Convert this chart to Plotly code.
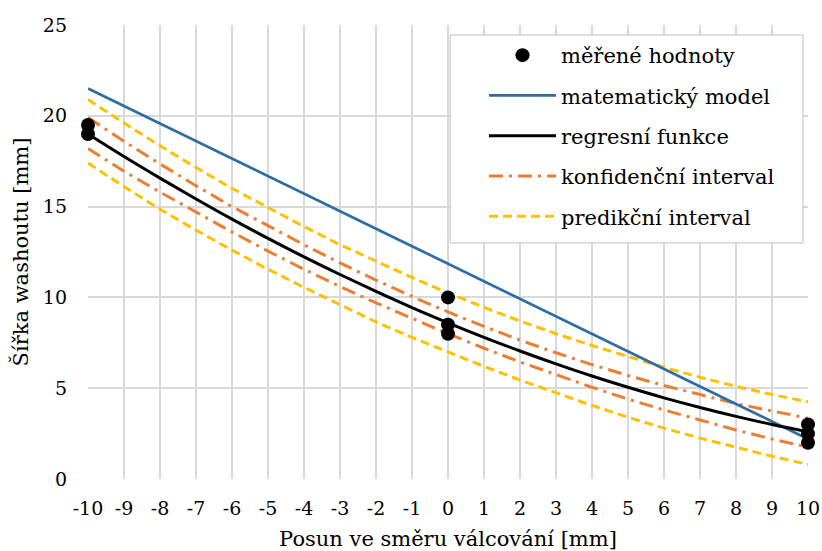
import plotly.graph_objects as go

# Posun ve směru válcování [mm]
x_pos = [-10, -9, -8, -7, -6, -5, -4, -3, -2, -1, 0, 1, 2, 3, 4, 5, 6, 7, 8, 9, 10]
x_ticks = ["-10", "-9", "-8", "-7", "-6", "-5", "-4", "-3", "-2", "-1", "0",
           "1", "2", "3", "4", "5", "6", "7", "8", "9", "10"]
y_ticks = [0, 5, 10, 15, 20, 25]

# measured points
meas_x = [-10, -10, 0, 0, 0, 10, 10, 10]
meas_y = [19.5, 19.0, 10.0, 8.5, 8.0, 3.0, 2.5, 2.0]

# mathematical model
model_y = [21.5, 20.53, 19.57, 18.6, 17.64, 16.67, 15.71, 14.75, 13.78, 12.82, 11.85,
           10.89, 9.92, 8.96, 7.99, 7.03, 6.06, 5.10, 4.13, 3.17, 2.2]

# regression function
reg_y = [19.0, 17.76, 16.57, 15.42, 14.31, 13.25, 12.23, 11.26, 10.33, 9.44, 8.6,
         7.80, 7.05, 6.34, 5.67, 5.05, 4.47, 3.94, 3.45, 3.00, 2.6]

# confidence interval
conf_hi = [19.9, 18.6, 17.35, 16.15, 15.0, 13.95, 12.9, 11.9, 10.95, 10.05, 9.2,
           8.4, 7.65, 6.95, 6.3, 5.7, 5.15, 4.65, 4.15, 3.75, 3.35]
conf_lo = [18.2, 16.95, 15.8, 14.7, 13.6, 12.55, 11.55, 10.6, 9.7, 8.85, 8.0,
           7.2, 6.45, 5.75, 5.05, 4.4, 3.8, 3.25, 2.7, 2.2, 1.75]

# prediction interval
pred_hi = [20.9, 19.6, 18.35, 17.15, 16.0, 14.95, 13.9, 12.9, 12.0, 11.1, 10.25,
           9.45, 8.7, 8.0, 7.35, 6.75, 6.15, 5.6, 5.1, 4.65, 4.25]
pred_lo = [17.4, 16.1, 14.85, 13.7, 12.6, 11.55, 10.55, 9.6, 8.65, 7.8, 7.0,
           6.2, 5.45, 4.75, 4.05, 3.4, 2.8, 2.25, 1.75, 1.25, 0.8]

FONT = "DejaVu Serif"
BLUE = "#2E6DA4"
ORANGE = "#ED7D31"
YELLOW = "#FFC000"
conf_dash = "14px,6px,3px,6px"
pred_dash = "9px,5px"

fig = go.Figure()

fig.add_trace(go.Scatter(x=x_pos, y=pred_hi, mode="lines", name="predikční interval",
                         line=dict(color=YELLOW, width=3, dash=pred_dash),
                         legendgroup="pred", legendrank=5))
fig.add_trace(go.Scatter(x=x_pos, y=pred_lo, mode="lines", showlegend=False,
                         line=dict(color=YELLOW, width=3, dash=pred_dash),
                         legendgroup="pred"))
fig.add_trace(go.Scatter(x=x_pos, y=conf_hi, mode="lines", name="konfidenční interval",
                         line=dict(color=ORANGE, width=3, dash=conf_dash),
                         legendgroup="conf", legendrank=4))
fig.add_trace(go.Scatter(x=x_pos, y=conf_lo, mode="lines", showlegend=False,
                         line=dict(color=ORANGE, width=3, dash=conf_dash),
                         legendgroup="conf"))
fig.add_trace(go.Scatter(x=x_pos, y=model_y, mode="lines", name="matematický model",
                         line=dict(color=BLUE, width=2.7), legendgroup="model",
                         legendrank=2))
fig.add_trace(go.Scatter(x=x_pos, y=reg_y, mode="lines", name="regresní funkce",
                         line=dict(color="black", width=3, shape="spline"),
                         legendgroup="reg", legendrank=3))
fig.add_trace(go.Scatter(x=meas_x, y=meas_y, mode="markers", name="měřené hodnoty",
                         marker=dict(color="black", size=14), legendgroup="meas",
                         legendrank=1, cliponaxis=False))

# legend frame (white panel with a thin grey border behind the legend entries)
fig.add_shape(type="rect", xref="paper", yref="paper",
              x0=0.503, x1=0.993, y0=0.52, y1=0.978,
              fillcolor="white", line=dict(color="#BFBFBF", width=1), layer="above")

fig.update_layout(
    width=822, height=551,
    margin=dict(l=88, r=14, t=25, b=72),
    paper_bgcolor="white", plot_bgcolor="white",
    font=dict(family=FONT, size=19, color="black"),
    legend=dict(
        x=0.55, y=0.978, xanchor="left", yanchor="top",
        bgcolor="rgba(0,0,0,0)", borderwidth=0,
        font=dict(family=FONT, size=21, color="black"),
        tracegroupgap=10, itemwidth=67,
    ),
    xaxis=dict(
        range=[-10, 10], tickmode="array", tickvals=x_pos, ticktext=x_ticks,
        showgrid=True, gridcolor="#D9D9D9", gridwidth=1.5,
        zeroline=False, showline=False, ticks="", automargin=False,
        ticklabelstandoff=16,
        tickfont=dict(family=FONT, size=19),
        title=dict(text="Posun ve směru válcování [mm]", standoff=14,
                   font=dict(family=FONT, size=21)),
    ),
    yaxis=dict(
        range=[0, 25], tickmode="array", tickvals=y_ticks,
        showgrid=True, gridcolor="#D9D9D9", gridwidth=1.5,
        zeroline=False, showline=False, ticks="", automargin=False,
        ticklabelstandoff=20,
        tickfont=dict(family=FONT, size=19),
        title=dict(text="Šířka washoutu [mm]", standoff=8,
                   font=dict(family=FONT, size=21)),
    ),
)

fig.write_html("out.html")
